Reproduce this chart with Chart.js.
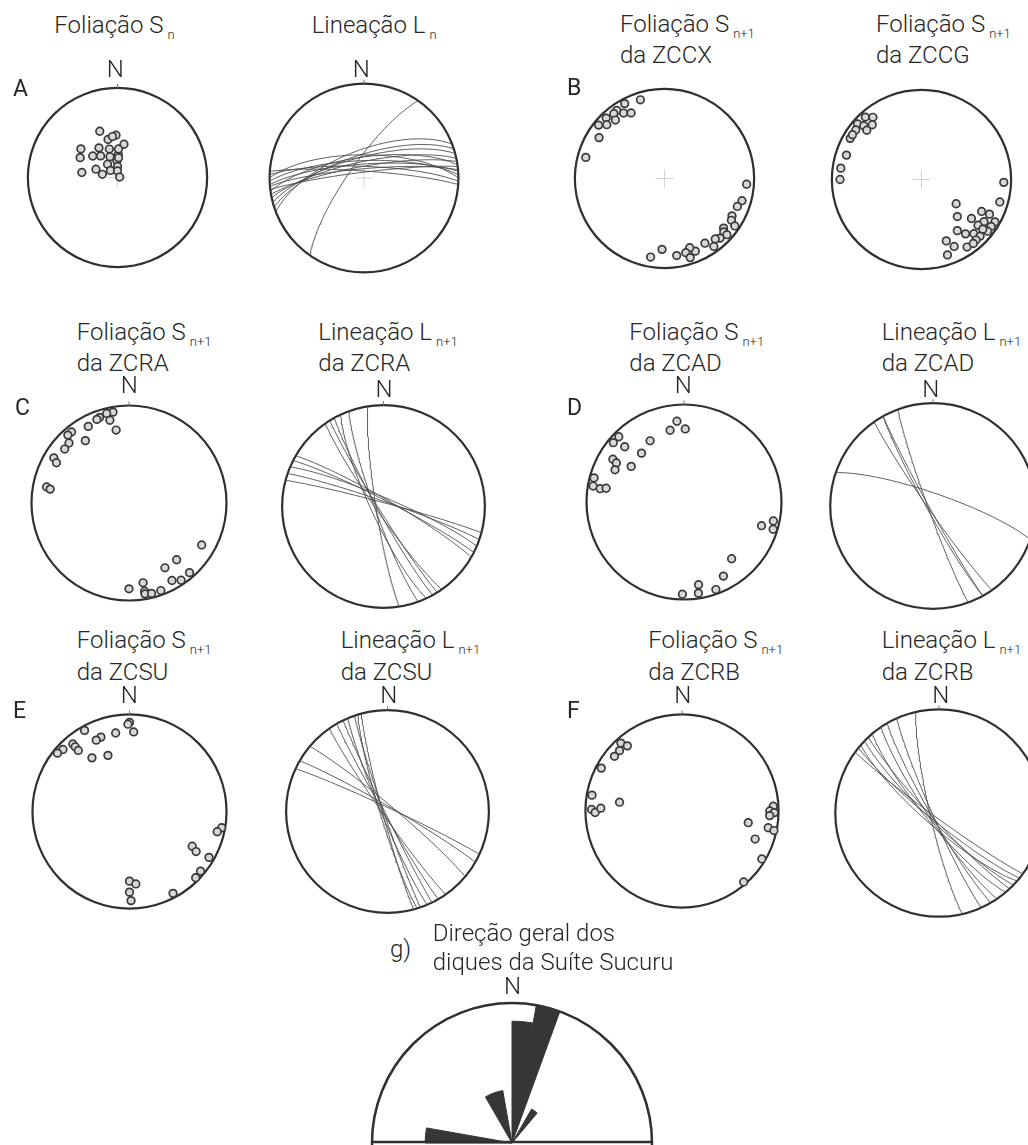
<!DOCTYPE html>
<html>
<head>
<meta charset="utf-8">
<script src="https://cdn.jsdelivr.net/npm/chart.js@4.4.1/dist/chart.umd.min.js"></script>
<style>
  html, body { margin: 0; padding: 0; background: #fff; width: 1028px; height: 1145px; overflow: hidden; position: relative; }
  .t { position: absolute; font-family: Roboto, "Liberation Sans", sans-serif; font-weight: 300; font-size: 24px; line-height: 24px; color: #262626; white-space: nowrap; }
  .t .s { font-size: 13px; position: relative; top: 6px; margin-left: 4px; }
  .t.lt { font-weight: 400; font-size: 23px; line-height: 23px; }
  .t.n { transform: translateX(-50%); }
  canvas { position: absolute; }
</style>
</head>
<body>
<script>
// ---- Poles to foliation, [trend, plunge] in degrees (lower hemisphere) ----
const polesSn = [[339,44],[346,54],[358,51],[11,59],[308,47],[298,51],[311,60],[328,58],[322,65],[344,63],[340,70],[2,69],[323,75],[358,75],[0,80],[278,57],[291,69],[282,76],[315,81],[0,84],[78,88],[2,64],[353,52],[3,72]];
const polesZCCX = [[343,9],[332,6],[325,8],[328,15],[333,19],[322,9],[316,7],[320,16],[313,13],[309,6],[302,15],[285,10],
  [94,9],[106,11],[111,14],[119,15],[122,13],[124,6],[130,15],[132,12],[132,7],[137,10],[140,13],[144,7],[148,16],[157,13],[160,19],[164,15],[162,8],[171,14],[182,22],[190,12]];
const polesZCCG = [[318,7],[322,13],[311,6],[313,13],[318,19],[307,9],[312,19],[300,9],[303,9],[288,13],[278,10],[270,10],
  [92,9],[106,10],[125,51],[118,25],[117,16],[136,42],[128,30],[120,6],[124,17],[129,20],[124,7],[145,31],[141,23],[136,17],[128,7],[134,10],[138,10],[158,27],[154,18],[146,10],[141,9],[161,12],[129,13]];
const polesZCRA = [[350,6],[346,6],[347,14],[341,8],[339,9],[332,12],[350,25],[321,7],[318,7],[325,23],[315,14],[310,15],[301,11],[299,16],[281,15],[280,19],
  [120,15],[140,25],[151,25],[139,6],[146,5],[151,10],[170,18],[180,13],[170,9],[170,6],[166,5],[160,5]];
const polesZCAD = [[355,18],[349,26],[1,26],[331,29],[315,6],[310,6],[313,18],[319,34],[301,16],[300,21],[295,23],[304,35],[285,5],[280,6],[279,14],[280,20],
  [102,7],[107,18],[107,5],[140,25],[152,15],[170,15],[171,6],[160,5],[181,6]];
const polesZCSU = [[0,9],[359,11],[3,19],[350,19],[331,5],[339,19],[335,20],[320,10],[313,7],[309,5],[320,14],[320,19],[325,33],[339,38],
  [100,4],[103,8],[119,27],[121,21],[120,6],[130,5],[135,4],[180,29],[175,26],[180,18],[179,9],[152,5]];
const polesZCRB = [[318,6],[320,13],[314,11],[309,11],[298,6],[280,6],[271,7],[269,11],[272,17],[278,35],
  [87,6],[90,10],[91,5],[93,10],[100,31],[101,10],[102,3],[111,20],[121,4],[139,3]];

// ---- Planes drawn as great circles, [strike (right-hand rule), dip] ----
const planesLn = [[215,77],[249,66],[262,72],[268,75],[272,80],[265,82],[258,76],[270,70],[274,84],[260,80],[266,78],[255,72],[263,85],[252,70]];
const planesZCRA = [[171,84],[160,83],[151,85],[148,86],[145,84],[155,80],[300,84],[297,85],[293,83],[289,86],[285,87]];
const planesZCAD = [[289,80],[160,86],[151,87],[151,85],[145,86]];
const planesZCSU = [[165,86],[163,84],[161,87],[157,85],[154,88],[150,87],[145,86],[310,85],[300,86],[295,87]];
const planesZCRB = [[167,83],[156,85],[150,84],[146,82],[140,80],[137,84],[134,82],[131,79],[129,83],[126,86]];

// ---- Rose diagram of dyke directions: 10-degree classes from N, relative frequency ----
const roseBins = Array.from({ length: 36 }, (_, i) => (i * 10) + '-' + (i * 10 + 10));
const roseValues = [0.87,1.0,0,0.28,0,0,0,0,0,0,0,0,0,0,0,0,0,0,0,0,0,0,0,0,0,0,0,0.62,0,0,0,0,0,0.38,0.38,0];

// ---- Equal-area (Schmidt) lower-hemisphere projection ----
const D2R = Math.PI / 180;
function projectLine(trend, plunge) {
  const R = Math.sqrt(1 - Math.sin(plunge * D2R));
  return { x: R * Math.sin(trend * D2R), y: R * Math.cos(trend * D2R) };
}
function greatCircle(strike, dip) {
  const s = strike * D2R, d = dip * D2R, dd = s + Math.PI / 2;
  const S = [Math.sin(s), Math.cos(s), 0];
  const D = [Math.sin(dd) * Math.cos(d), Math.cos(dd) * Math.cos(d), -Math.sin(d)];
  const pts = [];
  for (let a = 0; a <= 180; a += 2) {
    const ca = Math.cos(a * D2R), sa = Math.sin(a * D2R);
    const e = ca * S[0] + sa * D[0], n = ca * S[1] + sa * D[1], z = ca * S[2] + sa * D[2];
    const k = 1 / Math.sqrt(1 - z);
    pts.push({ x: e * k, y: n * k });
  }
  return pts;
}

// Primitive circle, optional centre cross and north tick
const netFrame = {
  id: 'netFrame',
  beforeDatasetsDraw(chart, args, opts) {
    const { ctx, scales: { x, y } } = chart;
    const cx = x.getPixelForValue(0), cy = y.getPixelForValue(0);
    const r = x.getPixelForValue(1) - cx;
    ctx.save();
    if (opts.cross) {
      ctx.strokeStyle = '#d2d2d2'; ctx.lineWidth = 1;
      ctx.beginPath();
      ctx.moveTo(cx - 9, cy); ctx.lineTo(cx + 9, cy);
      ctx.moveTo(cx, cy - 9); ctx.lineTo(cx, cy + 9);
      ctx.stroke();
    }
    ctx.strokeStyle = '#303030'; ctx.lineWidth = 2.2;
    ctx.beginPath(); ctx.arc(cx, cy, r, 0, Math.PI * 2); ctx.stroke();
    if (opts.tick) {
      ctx.strokeStyle = '#777'; ctx.lineWidth = 1;
      ctx.beginPath(); ctx.moveTo(cx, cy - r); ctx.lineTo(cx, cy - r - 4); ctx.stroke();
    }
    ctx.restore();
  }
};

const nets = [
  { cx: 117.5, cy: 177.5, r: 95,    poles: polesSn,   cross: true,  tick: true },
  { cx: 363.5, cy: 177.5, r: 94.5,  planes: planesLn, cross: true,  tick: true },
  { cx: 664.3, cy: 178.7, r: 95,    poles: polesZCCX, cross: true,  tick: false },
  { cx: 921.5, cy: 179,   r: 95,    poles: polesZCCG, cross: true,  tick: false },
  { cx: 129.3, cy: 503.3, r: 103,   poles: polesZCRA, tick: true },
  { cx: 383.5, cy: 506.5, r: 101.5, planes: planesZCRA, tick: true },
  { cx: 684.3, cy: 502,   r: 103,   poles: polesZCAD, tick: true },
  { cx: 932.7, cy: 505.7, r: 102.7, planes: planesZCAD, tick: true },
  { cx: 129.7, cy: 811.7, r: 102.3, poles: polesZCSU, tick: true },
  { cx: 387.3, cy: 811.3, r: 101.3, planes: planesZCSU, tick: true },
  { cx: 682,   cy: 811.3, r: 102,   poles: polesZCRB, tick: true },
  { cx: 939.3, cy: 813.3, r: 103.5, planes: planesZCRB, tick: true }
];

const EXT = 1.08;
nets.forEach(n => {
  const size = Math.round(2 * n.r * EXT);
  const c = document.createElement('canvas');
  c.width = size; c.height = size;
  c.style.left = Math.round(n.cx - size / 2) + 'px';
  c.style.top = Math.round(n.cy - size / 2) + 'px';
  document.body.appendChild(c);
  const datasets = [];
  (n.planes || []).forEach(([s, d]) => datasets.push({
    data: greatCircle(s, d), showLine: true, borderColor: '#4a4a4a', borderWidth: 0.9,
    pointRadius: 0, fill: false, tension: 0
  }));
  if (n.poles) datasets.push({
    data: n.poles.map(([t, p]) => projectLine(t, p)), showLine: false,
    pointRadius: 3.8, pointBackgroundColor: '#d8d8d8', pointBorderColor: '#3a3a3a', pointBorderWidth: 1.7
  });
  new Chart(c, {
    type: 'scatter',
    data: { datasets },
    options: {
      responsive: false, animation: false, events: [],
      layout: { padding: 0 },
      plugins: { legend: { display: false }, tooltip: { enabled: false }, netFrame: { cross: !!n.cross, tick: n.tick } },
      scales: {
        x: { type: 'linear', min: -EXT, max: EXT, display: false },
        y: { type: 'linear', min: -EXT, max: EXT, display: false }
      }
    },
    plugins: [netFrame]
  });
});

// ---- Rose diagram (upper half only) ----
const roseBase = {
  id: 'roseBase',
  afterDraw(chart) {
    const s = chart.scales.r, ctx = chart.ctx;
    ctx.save();
    ctx.strokeStyle = '#303030'; ctx.lineWidth = 2.5;
    ctx.beginPath();
    ctx.moveTo(s.xCenter - s.drawingArea, s.yCenter - 1);
    ctx.lineTo(s.xCenter + s.drawingArea, s.yCenter - 1);
    ctx.stroke();
    ctx.restore();
  }
};
const rc = document.createElement('canvas');
rc.width = 288; rc.height = 288;
rc.style.left = (512 - 144) + 'px'; rc.style.top = (1143 - 144) + 'px';
document.body.appendChild(rc);
new Chart(rc, {
  type: 'polarArea',
  data: { labels: roseBins, datasets: [{ data: roseValues, backgroundColor: '#363636', borderColor: '#363636', borderWidth: roseValues.map(v => v > 0 ? 1 : 0) }] },
  options: {
    responsive: false, animation: false, events: [],
    layout: { padding: 4 },
    plugins: { legend: { display: false }, tooltip: { enabled: false } },
    scales: {
      r: {
        min: 0, max: 1, startAngle: 0,
        ticks: { display: false, stepSize: 1 },
        grid: { color: '#303030', lineWidth: 2.5, circular: true },
        angleLines: { display: false },
        pointLabels: { display: false }
      }
    }
  },
  plugins: [roseBase]
});

// ---- Text ----
function text(html, left, capY, cls) {
  const el = document.createElement('div');
  el.className = 't' + (cls ? ' ' + cls : '');
  el.innerHTML = html;
  const fs = cls && cls.indexOf('lt') >= 0 ? 23 : 24;
  el.style.left = left + 'px';
  el.style.top = (capY - 0.486 * fs) + 'px';
  document.body.appendChild(el);
}
const S = (main, sub) => main + '<span class="s">' + sub + '</span>';

text(S('Foliação S', 'n'), 54.3, 25);
text(S('Lineação L', 'n'), 311.7, 25);
text(S('Foliação S', 'n+1'), 620, 23.3); text('da ZCCX', 620, 54.7);
text(S('Foliação S', 'n+1'), 876, 23.3); text('da ZCCG', 876, 54.7);
text('N', 115.3, 68.3, 'n'); text('N', 361.3, 68.3, 'n');
text('A', 13, 88, 'lt'); text('B', 567, 87, 'lt');

text(S('Foliação S', 'n+1'), 76.7, 331.3); text('da ZCRA', 76.7, 362.5);
text(S('Lineação L', 'n+1'), 318.3, 331.3); text('da ZCRA', 318.3, 362.5);
text(S('Foliação S', 'n+1'), 629.3, 331.3); text('da ZCAD', 629.3, 362.5);
text(S('Lineação L', 'n+1'), 881.7, 331.3); text('da ZCAD', 881.7, 362.5);
text('N', 129.2, 385, 'n'); text('N', 384, 389, 'n'); text('N', 683.2, 385, 'n'); text('N', 930.8, 389, 'n');
text('C', 15, 407.5, 'lt'); text('D', 567, 407.5, 'lt');

text(S('Foliação S', 'n+1'), 76.7, 639.5); text('da ZCSU', 76.7, 671.3);
text(S('Lineação L', 'n+1'), 340.7, 639.5); text('da ZCSU', 340.7, 671.3);
text(S('Foliação S', 'n+1'), 648.3, 639.5); text('da ZCRB', 648.3, 671.3);
text(S('Lineação L', 'n+1'), 881.7, 639.5); text('da ZCRB', 881.7, 671.3);
text('N', 129.2, 695, 'n'); text('N', 388.8, 695, 'n'); text('N', 682.8, 695, 'n'); text('N', 940.8, 695, 'n');
text('E', 13, 710, 'lt'); text('F', 567, 710, 'lt');

text('g)', 390, 949);
text('Direção geral dos', 432.7, 933);
text('diques da Suíte Sucuru', 432.7, 962);
text('N', 512.5, 985.5, 'n');
</script>
</body>
</html>
